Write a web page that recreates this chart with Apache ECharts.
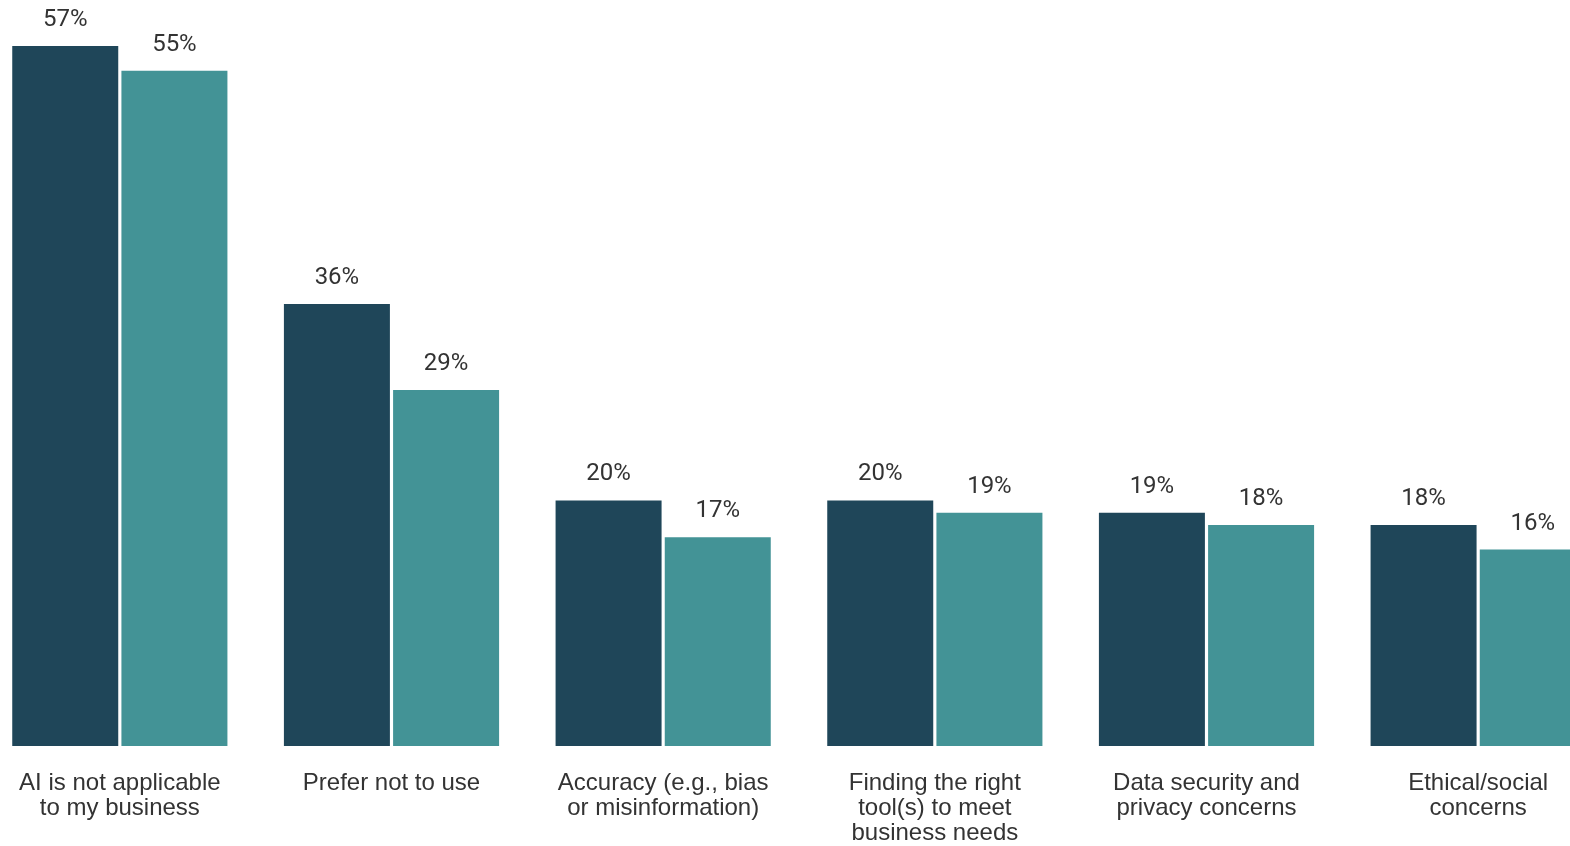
<!DOCTYPE html>
<html>
<head>
<meta charset="utf-8">
<script src="https://cdn.jsdelivr.net/npm/echarts@6/dist/echarts.min.js"></script>
<style>
  html, body { margin: 0; padding: 0; width: 1570px; height: 846px; overflow: hidden; background: #ffffff; }
  #chart { position: absolute; left: -16px; top: 0; width: 1630px; height: 846px; }
</style>
</head>
<body>
<div id="chart"></div>
<script>
// Barriers to AI adoption, two survey groups (percent of respondents)
const categories = [
  'AI is not applicable\nto my business',
  'Prefer not to use',
  'Accuracy (e.g., bias\nor misinformation)',
  'Finding the right\ntool(s) to meet\nbusiness needs',
  'Data security and\nprivacy concerns',
  'Ethical/social\nconcerns'
];
const seriesA = [57, 36, 20, 20, 19, 18];
const seriesB = [55, 29, 17, 19, 18, 16];

const chart = echarts.init(document.getElementById('chart'), null, { renderer: 'canvas' });

const valueLabel = {
  show: true,
  position: 'top',
  distance: 15,
  formatter: '{c}%',
  fontFamily: 'Roboto',
  fontSize: 24,
  lineHeight: 22,
  color: '#333333'
};

chart.setOption({
  animation: false,
  backgroundColor: '#ffffff',
  grid: { left: 0, right: 0, top: 8, bottom: 96, containLabel: false },
  xAxis: {
    type: 'category',
    data: categories,
    axisLine: { show: false },
    axisTick: { show: false },
    axisLabel: {
      margin: 25,
      interval: 0,
      fontFamily: 'Liberation Sans',
      fontSize: 24,
      lineHeight: 25,
      color: '#333333',
      align: 'center'
    }
  },
  yAxis: {
    type: 'value',
    min: 0,
    max: 60.1,
    show: false,
    splitLine: { show: false }
  },
  series: [
    {
      type: 'bar',
      data: seriesA,
      barWidth: 106,
      barGap: '3%',
      itemStyle: { color: '#1f4659' },
      label: valueLabel
    },
    {
      type: 'bar',
      data: seriesB,
      barWidth: 106,
      barGap: '3%',
      itemStyle: { color: '#439396' },
      label: valueLabel
    }
  ]
});
</script>
</body>
</html>
